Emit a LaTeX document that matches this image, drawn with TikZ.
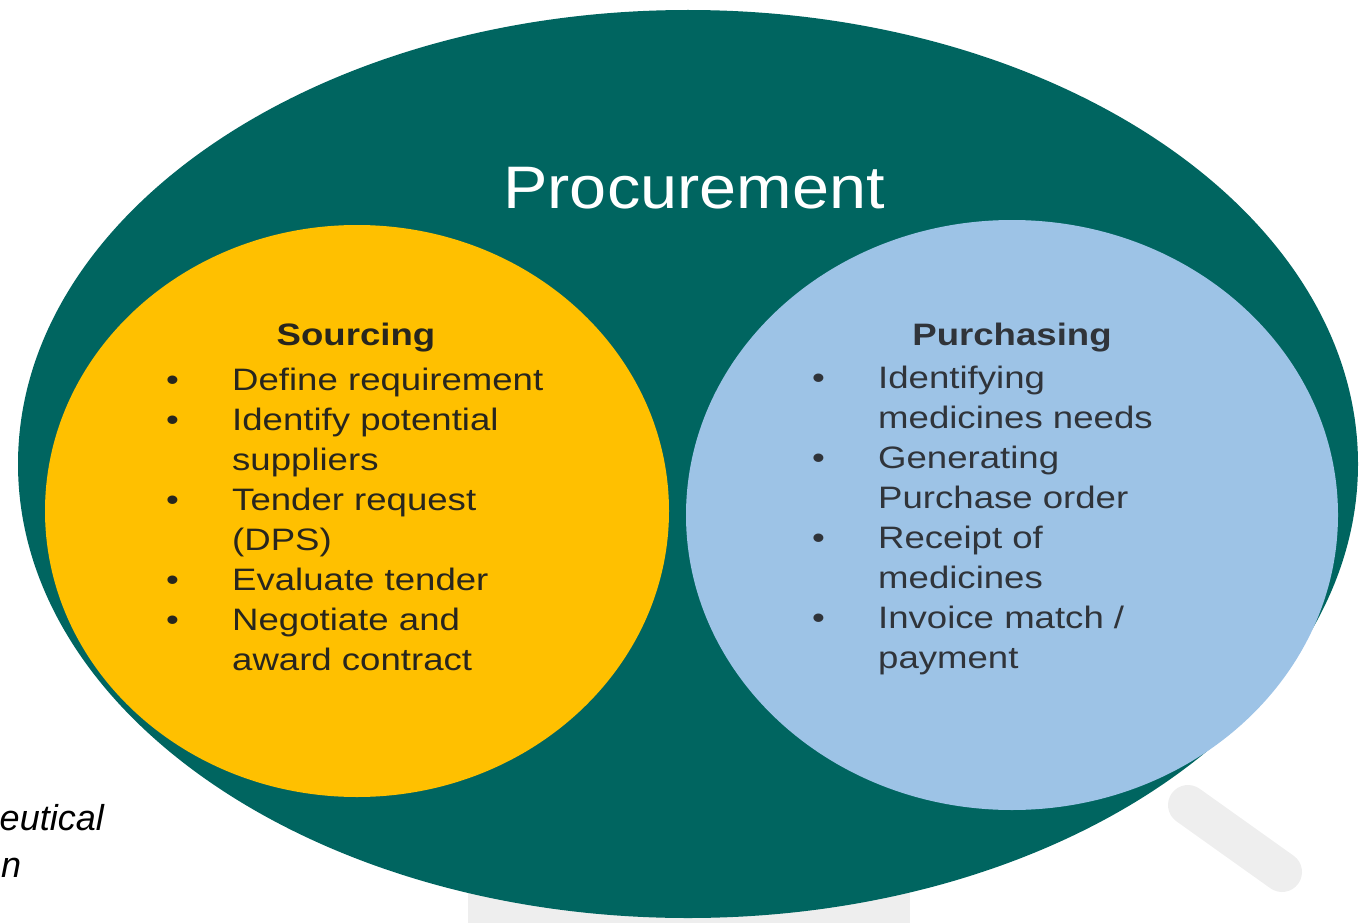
\documentclass[tikz,border=0pt]{standalone}
\usepackage{fontspec}
\setmainfont{Liberation Sans}
\newfontfamily\widesans[FakeStretch=1.18]{Liberation Sans}
\newfontfamily\titlesans[FakeStretch=1.11]{Liberation Sans}
\usetikzlibrary{positioning,shapes.geometric}

\definecolor{procteal}{RGB}{0,101,96}
\definecolor{srcgold}{RGB}{255,192,0}
\definecolor{purblue}{RGB}{157,195,230}
\definecolor{srctext}{RGB}{40,38,30}
\definecolor{purtext}{RGB}{48,52,58}
\definecolor{lensgray}{RGB}{238,238,238}

% one bullet line / one follow-on line of a list
\newcommand{\itm}[1]{\strut\makebox[66pt][l]{\textbullet}#1}
\newcommand{\cnt}[1]{\strut\hspace*{66pt}#1}

\begin{document}
\begin{tikzpicture}[x=1pt, y=-1pt, inner sep=0pt,
    blob/.style={ellipse, inner sep=0pt},
    head/.style={font=\widesans\fontsize{31}{40}\selectfont\bfseries, anchor=base},
    items/.style={font=\widesans\fontsize{31}{40}\selectfont, align=left,
      anchor=north west}]
  \useasboundingbox (0,0) rectangle (1360,923);
  % faint lens behind the picture
  \fill[lensgray] (468,890) rectangle (910,923);
  \draw[lensgray, line width=40pt, line cap=round] (1188,805) -- (1282,872);
  \node[blob, fill=procteal, minimum width=1340pt, minimum height=908pt]
    (proc) at (688,464) {};
  \node[blob, fill=srcgold, minimum width=624pt, minimum height=572pt]
    (src) at (357,511) {};
  \node[blob, fill=purblue, minimum width=652pt, minimum height=590pt]
    (pur) at (1012,515) {};
  \node[text=white, font=\titlesans\fontsize{60}{60}\selectfont, anchor=base]
    (proctitle) at (694,208) {Procurement};
  \node[head, text=srctext] (srchead) at (356,345) {Sourcing};
  \node[items, text=srctext] (srclist) at (166,362)
    {\itm{Define requirement}\\ \itm{Identify potential}\\ \cnt{suppliers}\\
     \itm{Tender request}\\ \cnt{(DPS)}\\ \itm{Evaluate tender}\\
     \itm{Negotiate and}\\ \cnt{award contract}};
  \node[head, text=purtext] (purhead) at (1012,345) {Purchasing};
  \node[items, text=purtext] (purlist) at (812,360)
    {\itm{Identifying}\\ \cnt{medicines needs}\\ \itm{Generating}\\
     \cnt{Purchase order}\\ \itm{Receipt of}\\ \cnt{medicines}\\
     \itm{Invoice match /}\\ \cnt{payment}};
  % cut-off caption at the lower left
  \node[font=\itshape\fontsize{36}{36}\selectfont, anchor=base east]
    (capa) at (104,830) {eutical};
  \node[font=\itshape\fontsize{36}{36}\selectfont, anchor=base west]
    (capb) at (1,877) {n};
\end{tikzpicture}
\end{document}
